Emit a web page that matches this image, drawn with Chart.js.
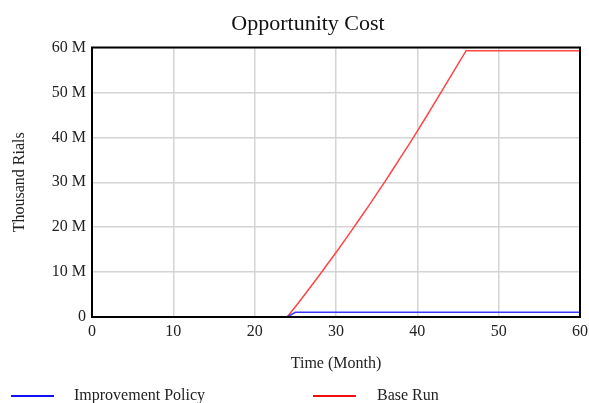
<!DOCTYPE html>
<html>
<head>
<meta charset="utf-8">
<script src="https://cdn.jsdelivr.net/npm/chart.js@4.4.1/dist/chart.umd.min.js"></script>
<style>
  html, body { margin: 0; padding: 0; background: #fff; }
  #wrap { position: relative; width: 589px; height: 403px; }
  #legend { position: absolute; left: 0; top: 384px; width: 589px; height: 24px;
            font-family: "Liberation Serif", "Times New Roman", serif; font-size: 16px; color: #222; }
  .swatch { position: absolute; top: 11px; width: 43px; height: 2px; }
  .lbl { position: absolute; top: 1px; line-height: 20px; }
</style>
</head>
<body>
<div id="wrap">
  <canvas id="chart" width="589" height="403"></canvas>
  <div id="legend">
    <div class="swatch" style="left:11px; background:#1010f0;"></div>
    <div class="lbl" style="left:74px;">Improvement Policy</div>
    <div class="swatch" style="left:313px; background:#f01010;"></div>
    <div class="lbl" style="left:377px;">Base Run</div>
  </div>
</div>
<script>
// Tiempo en meses
const months = [];
for (let m = 0; m <= 60; m++) months.push(m);

// Valores en millones
const baseRun = [
  0, 0, 0, 0, 0, 0, 0, 0, 0, 0,
  0, 0, 0, 0, 0, 0, 0, 0, 0, 0,
  0, 0, 0, 0, 0,
  2.3, 4.6, 7.0, 9.4, 11.9, 14.35, 16.9, 19.45, 22.1, 24.7,
  27.4, 30.1, 32.9, 35.7, 38.5, 41.4, 44.3, 47.3, 50.3, 53.3,
  56.3, 59.3,
  59.3, 59.3, 59.3, 59.3, 59.3, 59.3, 59.3, 59.3, 59.3, 59.3,
  59.3, 59.3, 59.3, 59.3
];
const improvementPolicy = [
  0, 0, 0, 0, 0, 0, 0, 0, 0, 0,
  0, 0, 0, 0, 0, 0, 0, 0, 0, 0,
  0, 0, 0, 0, 0,
  1.05, 1.05, 1.05, 1.05, 1.05, 1.05, 1.05, 1.05, 1.05, 1.05,
  1.05, 1.05, 1.05, 1.05, 1.05, 1.05, 1.05, 1.05, 1.05, 1.05,
  1.05, 1.05, 1.05, 1.05, 1.05, 1.05, 1.05, 1.05, 1.05, 1.05,
  1.05, 1.05, 1.05, 1.05, 1.05, 1.05
];
const yTicks = [0, 10, 20, 30, 40, 50, 60];
const chartTitle = 'Opportunity Cost';

const serif = '"Liberation Serif", "Times New Roman", serif';

function toPoints(values) {
  return months.map((m, i) => ({ x: m, y: values[i] }));
}

// Marco negro alrededor del area del grafico + titulo
const frame = {
  id: 'frame',
  afterDraw(chart) {
    const a = chart.chartArea;
    const ctx = chart.ctx;
    ctx.save();
    ctx.strokeStyle = '#000';
    ctx.lineWidth = 2;
    ctx.strokeRect(a.left, a.top, a.right - a.left, a.bottom - a.top);
    ctx.fillStyle = '#111';
    ctx.font = '22px ' + serif;
    ctx.textAlign = 'center';
    ctx.textBaseline = 'middle';
    ctx.fillText(chartTitle, 308, 24);
    ctx.restore();
  }
};

new Chart(document.getElementById('chart').getContext('2d'), {
  type: 'line',
  data: {
    datasets: [{
      label: 'Improvement Policy',
      data: toPoints(improvementPolicy),
      borderColor: '#3a3aff',
      borderWidth: 1.5,
      pointRadius: 0,
      tension: 0
    }, {
      label: 'Base Run',
      data: toPoints(baseRun),
      borderColor: '#ff4545',
      borderWidth: 1.5,
      pointRadius: 0,
      tension: 0
    }]
  },
  options: {
    responsive: false,
    animation: false,
    layout: { padding: { left: 0, right: 9, top: 47.5, bottom: 30 } },
    plugins: {
      legend: { display: false },
      tooltip: { enabled: false },
      title: { display: false }
    },
    scales: {
      x: {
        type: 'linear',
        min: 0,
        max: 60,
        ticks: { stepSize: 10, color: '#222', padding: 5, font: { family: serif, size: 16 } },
        grid: { color: '#d4d4d4', lineWidth: 1.5, drawTicks: false },
        border: { display: false },
        title: {
          display: true,
          text: 'Time (Month)',
          color: '#222',
          font: { family: serif, size: 16 },
          padding: { top: 0, bottom: 0 }
        },
        afterFit(scale) {
          scale.height = 56;
          scale.paddingRight = 0;
          scale.paddingLeft = 0;
        }
      },
      y: {
        min: 0,
        max: 60,
        afterBuildTicks(scale) { scale.ticks = yTicks.map(v => ({ value: v })); },
        ticks: {
          color: '#222',
          padding: 6,
          font: { family: serif, size: 16 },
          callback: v => v === 0 ? '0' : v + ' M'
        },
        grid: { color: '#d4d4d4', lineWidth: 1.5, drawTicks: false },
        border: { display: false },
        title: {
          display: true,
          text: 'Thousand Rials',
          color: '#222',
          font: { family: serif, size: 16 },
          padding: { top: 10, bottom: 0 }
        },
        afterFit(scale) {
          scale.width = 92;
          scale.paddingTop = 0;
          scale.paddingBottom = 0;
        }
      }
    }
  },
  plugins: [frame]
});
</script>
</body>
</html>
